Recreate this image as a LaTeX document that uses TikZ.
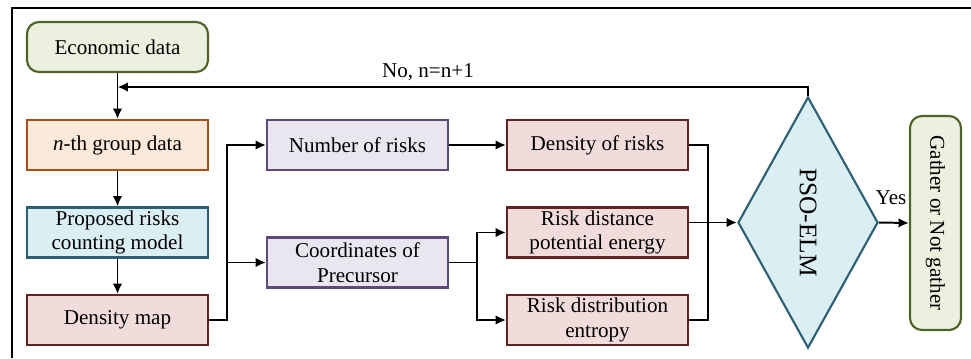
\documentclass[tikz,border=0pt]{standalone}
\usepackage{fontspec}
\setmainfont{Liberation Serif}
\usepackage{graphicx}
\usetikzlibrary{arrows.meta,shapes.geometric}

\definecolor{greenfill}{HTML}{EBF1DE}
\definecolor{greenline}{HTML}{4F6228}
\definecolor{orangefill}{HTML}{FDE9D9}
\definecolor{orangeline}{HTML}{A8501A}
\definecolor{bluefill}{HTML}{DBEEF4}
\definecolor{blueline}{HTML}{2B6072}
\definecolor{pinkfill}{HTML}{F2DCDB}
\definecolor{pinkline}{HTML}{632523}
\definecolor{purplefill}{HTML}{E9E6F0}
\definecolor{purpleline}{HTML}{5F497A}

\begin{document}
\begin{tikzpicture}[>={Latex[length=2.6mm,width=2.4mm]},x=0.025cm,y=-0.025cm,
  box/.style={draw,line width=1.5pt,minimum width=4.525cm,minimum height=1.25cm,
    align=center,inner sep=1pt,font=\fontsize{15}{17.7}\selectfont},
  flow/.style={line width=1.4pt}]
  \useasboundingbox (0,0) rectangle (971,358);
  % frame
  \draw[line width=1.2pt] (12,358) -- (12,8) -- (971,8);
  % left column
  \node[box,rounded corners=0.3cm,fill=greenfill,draw=greenline] (eco) at (117.5,47) {Economic data};
  \node[box,fill=orangefill,draw=orangeline] (grp) at (117.5,145) {\emph{n}-th group data};
  \node[box,fill=bluefill,draw=blueline] (prop) at (117.5,232.5) {Proposed risks\\counting model};
  \node[box,fill=pinkfill,draw=pinkline] (dmap) at (117.5,320) {Density map};
  % middle columns
  \node[box,fill=purplefill,draw=purpleline] (num) at (357.5,145) {Number of risks};
  \node[box,fill=purplefill,draw=purpleline] (coord) at (357.5,262.5) {Coordinates of\\Precursor};
  \node[box,fill=pinkfill,draw=pinkline] (dens) at (597.5,145) {Density of risks};
  \node[box,fill=pinkfill,draw=pinkline] (dist) at (597.5,232.5) {Risk distance\\potential energy};
  \node[box,fill=pinkfill,draw=pinkline] (entr) at (597.5,320) {Risk distribution\\entropy};
  % decision and output
  \node[diamond,draw=blueline,fill=bluefill,line width=1.5pt,minimum width=3.5cm,
    minimum height=6.275cm,inner sep=0pt,font=\fontsize{18}{20}\selectfont]
    (pso) at (808,222.5) {\rotatebox{-90}{PSO-ELM}};
  \node[box,rounded corners=0.3cm,fill=greenfill,draw=greenline,minimum width=1.275cm,
    minimum height=5.35cm] (gath) at (935.5,223) {\rotatebox{-90}{Gather or Not gather}};
  % junctions
  \coordinate (j1) at (227,320);
  \coordinate (j2) at (477,262.5);
  \coordinate (j3) at (708,320);
  \coordinate (fb) at (117.5,87);
  % connectors
  \draw[flow,->] (eco) -- (grp);
  \draw[flow,->] (grp) -- (prop);
  \draw[flow,->] (prop) -- (dmap);
  \draw[flow,->] (pso.north) |- (fb);
  \node[font=\fontsize{15}{17.7}\selectfont] (no) at (428,72) {No, n=n+1};
  \draw[flow,->] (dmap.east) -- (j1) |- (num.west);
  \draw[flow,->] (j1 |- coord.west) -- (coord.west);
  \draw[flow,->] (num) -- (dens);
  \draw[flow] (coord.east) -- (j2);
  \draw[flow,->] (j2) |- (dist.west);
  \draw[flow,->] (j2) |- (entr.west);
  \draw[flow] (dens.east) -| (j3) -- (entr.east);
  \draw[flow,->] (dist.east |- pso.west) -- (pso.west);
  \draw[flow,->] (pso.east) -- (gath.west);
  \node[font=\fontsize{15}{17.7}\selectfont] (yes) at (891,198) {Yes};
\end{tikzpicture}
\end{document}
